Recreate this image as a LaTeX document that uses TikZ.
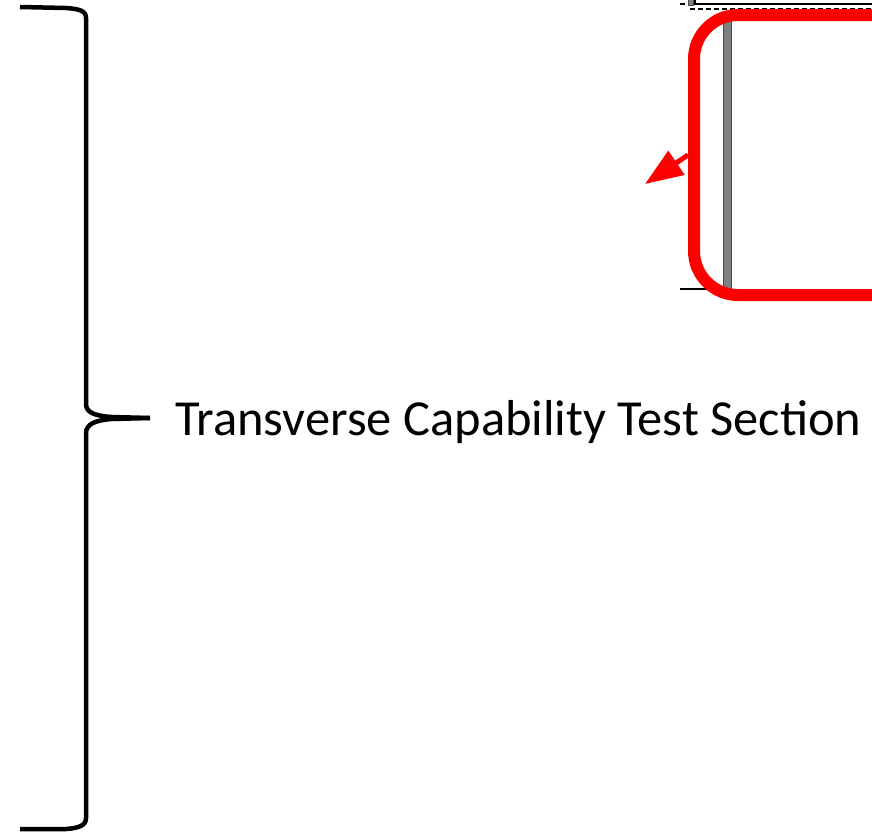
\documentclass[tikz,border=0pt]{standalone}
\usepackage{fontspec}
\setmainfont{Carlito}
\usetikzlibrary{arrows.meta,positioning}

\begin{document}
\begin{tikzpicture}[
  x=1pt, y=-1pt,
  brace/.style={draw=black, line width=4.5pt, line join=round},
  callout/.style={draw=red, line width=12pt, rounded corners=44pt, inner sep=0pt, minimum width=320pt, minimum height=280pt},
  pointer/.style={-{Triangle[length=38pt,width=28pt]}, draw=red, line width=5pt},
  wall/.style={draw=gray!55!black, fill=gray, line width=0.6pt},
  edge/.style={draw=black, line width=1.2pt},
  label/.style={font=\fontsize{50.5}{60}\selectfont, inner sep=0pt, anchor=base west}
]
\useasboundingbox (0,0) rectangle (872,836);
\clip (0,0) rectangle (872,836);

% section brace
\coordinate (tip) at (150,418);
\draw[brace] (20,7) -- (66,8) .. controls (80,9) and (86,11) .. (86,18)
  -- (86,404) .. controls (86,413) and (96,416) .. (112,417) -- (tip);
\draw[brace] (tip) -- (112,419) .. controls (96,420) and (86,424) .. (86,433)
  -- (86,818) .. controls (86,825) and (80,828) .. (66,829) -- (20,829);
\node[label] (section) at (175,435) {Transverse Capability Test Section};

% pieces of the drawing behind the callout
\draw[edge, dashed, dash pattern=on 5pt off 3pt] (690,9) -- (880,9);
\draw[edge, dashed, dash pattern=on 5pt off 3pt] (680,4) -- (688,4);
\draw[wall] (688,-2) rectangle (693,5);
\draw[draw=black, line width=1.2pt, fill=white] (695,-10) rectangle (880,4);
\draw[wall] (723,21) rectangle (731,289);
\draw[edge] (680,289) -- (723,289);

% highlight and pointer
\node[callout] (focus) at (854,155) {};
\coordinate (target) at (645,184);
\draw[pointer] (focus.west) -- (target);
\end{tikzpicture}
\end{document}
